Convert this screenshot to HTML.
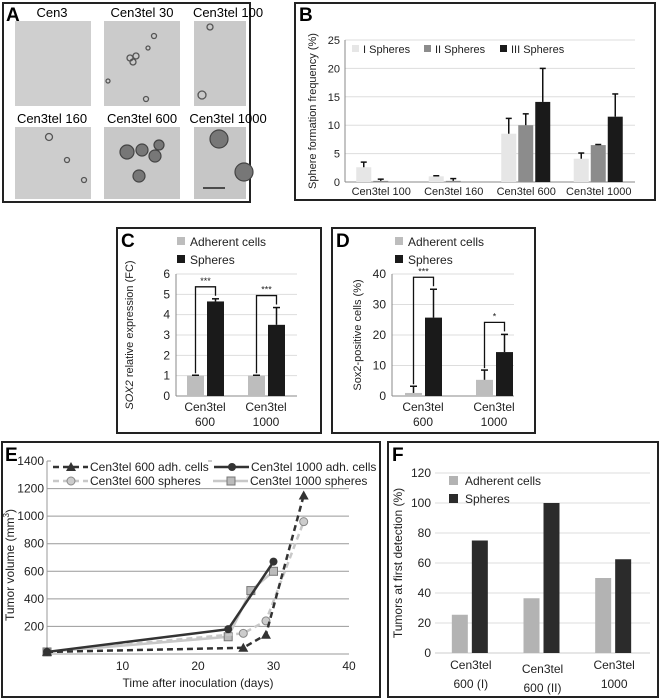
<!DOCTYPE html>
<html><head><meta charset="utf-8"><style>
html,body{margin:0;padding:0;background:#fff}
svg{display:block;font-family:"Liberation Sans",Arial,sans-serif}
</style></head><body>
<svg id="fig" width="660" height="700" viewBox="0 0 660 700" xmlns="http://www.w3.org/2000/svg">
<g>
<rect x="3" y="3" width="247" height="199" fill="#fff" stroke="#222" stroke-width="2"/>
<text x="6" y="21" font-size="19" font-weight="bold">A</text>
<text x="52" y="17" font-size="13" text-anchor="middle">Cen3</text>
<text x="142" y="17" font-size="13" text-anchor="middle">Cen3tel 30</text>
<text x="228" y="17" font-size="13" text-anchor="middle">Cen3tel 100</text>
<text x="52" y="123" font-size="13" text-anchor="middle">Cen3tel 160</text>
<text x="142" y="123" font-size="13" text-anchor="middle">Cen3tel 600</text>
<text x="228" y="123" font-size="13" text-anchor="middle">Cen3tel 1000</text>
<rect x="15" y="21" width="76" height="85" fill="#cfcfcf"/>
<rect x="104" y="21" width="76" height="85" fill="#cbcbcb"/>
<rect x="194" y="21" width="52" height="85" fill="#c9c9c9"/>
<rect x="15" y="127" width="76" height="72" fill="#cdcdcd"/>
<rect x="104" y="127" width="76" height="72" fill="#c8c8c8"/>
<rect x="194" y="127" width="52" height="72" fill="#c6c6c6"/>
<g fill="none" stroke="#555" stroke-width="1.3">
<circle cx="130" cy="58" r="3"/><circle cx="136" cy="56" r="3"/><circle cx="133" cy="62" r="3"/><circle cx="154" cy="36" r="2.5"/><circle cx="148" cy="48" r="2"/><circle cx="146" cy="99" r="2.5"/><circle cx="108" cy="81" r="2"/>
<circle cx="210" cy="27" r="3"/><circle cx="202" cy="95" r="4"/><circle cx="49" cy="137" r="3.5"/><circle cx="67" cy="160" r="2.5"/><circle cx="84" cy="180" r="2.5"/>
</g>
<g fill="#777" stroke="#444" stroke-width="1.2">
<circle cx="127" cy="152" r="7"/><circle cx="142" cy="150" r="6"/><circle cx="155" cy="156" r="6"/><circle cx="159" cy="145" r="5"/><circle cx="139" cy="176" r="6"/>
<circle cx="219" cy="139" r="9"/><circle cx="244" cy="172" r="9"/>
</g>
<line x1="203" y1="188" x2="225" y2="188" stroke="#222" stroke-width="1.5"/>
</g>
<g id="panelB">
<rect x="295" y="3" width="360" height="197" fill="#fff" stroke="#222" stroke-width="2"/>
<text x="299" y="21" font-size="19" font-weight="bold">B</text>
<text transform="translate(316,111) rotate(-90)" font-size="11" text-anchor="middle" fill="#222">Sphere formation frequency (%)</text>
</g>
<g id="panelC">
<rect x="117" y="228" width="204" height="205" fill="#fff" stroke="#222" stroke-width="2"/>
<text x="121" y="247" font-size="19" font-weight="bold">C</text>
<text transform="translate(133,335) rotate(-90)" font-size="11" text-anchor="middle" fill="#222"><tspan font-style="italic">SOX2</tspan> relative expression (FC)</text>
</g>
<g id="panelD">
<rect x="332" y="228" width="203" height="205" fill="#fff" stroke="#222" stroke-width="2"/>
<text x="336" y="247" font-size="19" font-weight="bold">D</text>
<text transform="translate(361,335) rotate(-90)" font-size="11" text-anchor="middle" fill="#222">Sox2-positive cells (%)</text>
</g>
<g id="panelE">
<rect x="2" y="442" width="378" height="255" fill="#fff" stroke="#222" stroke-width="2"/>
<text x="5" y="461" font-size="19" font-weight="bold">E</text>
<text transform="translate(14,565) rotate(-90)" font-size="12" text-anchor="middle" fill="#222">Tumor volume (mm<tspan dy="-5" font-size="8">3</tspan><tspan dy="5">)</tspan></text>
<text x="198" y="687" font-size="12" text-anchor="middle" fill="#222">Time after inoculation (days)</text>
</g>
<g id="panelF">
<rect x="388" y="442" width="270" height="255" fill="#fff" stroke="#222" stroke-width="2"/>
<text x="392" y="461" font-size="19" font-weight="bold">F</text>
<text transform="translate(402,563) rotate(-90)" font-size="12" text-anchor="middle" fill="#222">Tumors at first detection (%)</text>
</g>
</svg>
<script>
// Panel B data
const bCategories = ["Cen3tel 100","Cen3tel 160","Cen3tel 600","Cen3tel 1000"];
const bSeriesNames = ["I Spheres","II Spheres","III Spheres"];
const bSphI = [2.6,1.0,8.5,4.1];
const bSphIErr = [3.5,1.1,11.2,5.1];
const bSphII = [0.2,0.2,10.0,6.5];
const bSphIIErr = [0.5,0.6,12.0,6.6];
const bSphIII = [0,0,14.1,11.5];
const bSphIIIErr = [0,0,20.0,15.5];
const bTicks = [0,5,10,15,20,25];
// Panel C data
const cCategories = [["Cen3tel","600"],["Cen3tel","1000"]];
const cAdherent = [1,1];
const cAdherentErr = [1.02,1.02];
const cSpheres = [4.65,3.5];
const cSpheresErr = [4.78,4.35];
const cSig = ["***","***"];
const cTicks = [0,1,2,3,4,5,6];
// Panel D data
const dCategories = [["Cen3tel","600"],["Cen3tel","1000"]];
const dAdherent = [1,5.3];
const dAdherentErr = [3.2,8.5];
const dSpheres = [25.7,14.4];
const dSpheresErr = [35,20.2];
const dSig = ["***","*"];
const dTicks = [0,10,20,30,40];
// Panel E data
const eXTicks = [10,20,30,40];
const eYTicks = [200,400,600,800,1000,1200,1400];
const e600AdhX = [0,26,29,34];
const e600AdhY = [15,45,140,1150];
const e1000AdhX = [0,24,30];
const e1000AdhY = [15,180,670];
const e600SphX = [0,26,29,34];
const e600SphY = [15,150,240,960];
const e1000SphX = [0,24,27,30];
const e1000SphY = [15,125,460,600];
// Panel F data
const fCategories = [["Cen3tel","600 (I)"],["Cen3tel","600 (II)"],["Cen3tel","1000"]];
const fAdherent = [25.5,36.5,50];
const fSpheres = [75,100,62.5];
const fTicks = [0,20,40,60,80,100,120];

const NS="http://www.w3.org/2000/svg";
function mk(parent,tag,attrs,text){const e=document.createElementNS(NS,tag);for(const k in attrs)e.setAttribute(k,attrs[k]);if(text!==undefined)e.textContent=text;parent.appendChild(e);return e;}
function lin(d0,d1,r0,r1){return v=>r0+(v-d0)/(d1-d0)*(r1-r0);}

// ---------- Panel B ----------
(function(){
const g=document.getElementById('panelB');
const x0=345,x1=635,y=lin(0,25,182,40);
bTicks.forEach(t=>{
  if(t>0){const l=mk(g,'line',{x1:x0,x2:x1,y1:y(t),y2:y(t),stroke:'#ddd','stroke-width':1});
  
  }
  const tx=mk(g,'text',{x:x0-5,y:y(t)+4,'font-size':11,'text-anchor':'end',fill:'#222'},t);
  
  
});
mk(g,'line',{x1:x0,x2:x0,y1:y(25),y2:y(0),stroke:'#888'});
mk(g,'line',{x1:x0,x2:x1,y1:y(0),y2:y(0),stroke:'#888'});
const gw=(x1-x0)/bCategories.length;
const series=[[bSphI,bSphIErr,'#e6e6e6'],[bSphII,bSphIIErr,'#8c8c8c'],[bSphIII,bSphIIIErr,'#1a1a1a']];
bCategories.forEach((c,i)=>{
  const cx=x0+gw*(i+0.5);
  series.forEach((s,j)=>{
    const bx=cx-25+j*17;
    const v=s[0][i];
    const r=mk(g,'rect',{x:bx,y:y(v),width:15,height:y(0)-y(v),fill:s[2]});
    
    
    const e=s[1][i];
    if(e>v){mk(g,'line',{x1:bx+7.5,x2:bx+7.5,y1:y(v),y2:y(e),stroke:'#111','stroke-width':1.5});
      mk(g,'line',{x1:bx+4.5,x2:bx+10.5,y1:y(e),y2:y(e),stroke:'#111','stroke-width':1.5});}
  });
  const t=mk(g,'text',{x:cx,y:195,'font-size':11,'text-anchor':'middle',fill:'#222'},c);
  
  
});
const lx=[352,424,500];
bSeriesNames.forEach((n,j)=>{
  mk(g,'rect',{x:lx[j],y:45,width:7,height:7,fill:series[j][2]});
  const t=mk(g,'text',{x:lx[j]+11,y:53,'font-size':11,fill:'#222'},n);
  
  
});
})();

// ---------- Panels C & D ----------
function pairChart(id,cats,adh,adhErr,sph,sphErr,sig,ticks,ymax,x0,x1,bx,legX){
const g=document.getElementById(id);
const y=lin(0,ymax,396,274);
ticks.forEach(t=>{
  if(t>0){const l=mk(g,'line',{x1:x0,x2:x1,y1:y(t),y2:y(t),stroke:'#ddd'});
  
  }
  const tx=mk(g,'text',{x:x0-6,y:y(t)+4,'font-size':12,'text-anchor':'end',fill:'#222'},t);
  
  
});
mk(g,'line',{x1:x0,x2:x0,y1:y(ymax),y2:y(0),stroke:'#888'});
mk(g,'line',{x1:x0,x2:x1,y1:y(0),y2:y(0),stroke:'#888'});
cats.forEach((c,i)=>{
  const a=bx[i],s=a+20;
  const r1=mk(g,'rect',{x:a,y:y(adh[i]),width:17,height:y(0)-y(adh[i]),fill:'#bdbdbd'});
  
  
  const r2=mk(g,'rect',{x:s,y:y(sph[i]),width:17,height:y(0)-y(sph[i]),fill:'#1a1a1a'});
  
  
  [[a,adh[i],adhErr[i]],[s,sph[i],sphErr[i]]].forEach(q=>{
    mk(g,'line',{x1:q[0]+8.5,x2:q[0]+8.5,y1:y(q[1]),y2:y(q[2]),stroke:'#111','stroke-width':1.5});
    mk(g,'line',{x1:q[0]+5,x2:q[0]+12,y1:y(q[2]),y2:y(q[2]),stroke:'#111','stroke-width':1.5});
  });
  const top=Math.min(y(adhErr[i]),y(sphErr[i]))-12;
  mk(g,'path',{d:`M${a+8.5},${y(adhErr[i])-2}V${top}H${s+8.5}V${y(sphErr[i])-3}`,fill:'none',stroke:'#111','stroke-width':1.3});
  const st=mk(g,'text',{x:(a+s)/2+8.5,y:top-3,'font-size':9,'text-anchor':'middle',fill:'#222'},sig[i]);
  
  
  const t=mk(g,'text',{x:a+18,y:411,'font-size':12,'text-anchor':'middle',fill:'#222'});
  mk(t,'tspan',{x:a+18},c[0]);mk(t,'tspan',{x:a+18,dy:15},c[1]);
  
  
});
mk(g,'rect',{x:legX,y:237,width:8,height:8,fill:'#bdbdbd'});
const l1=mk(g,'text',{x:legX+13,y:246,'font-size':12,fill:'#222'},'Adherent cells');


mk(g,'rect',{x:legX,y:255,width:8,height:8,fill:'#1a1a1a'});
const l2=mk(g,'text',{x:legX+13,y:264,'font-size':12,fill:'#222'},'Spheres');


}
pairChart('panelC',cCategories,cAdherent,cAdherentErr,cSpheres,cSpheresErr,cSig,cTicks,6,176,297,[187,248],177);
pairChart('panelD',dCategories,dAdherent,dAdherentErr,dSpheres,dSpheresErr,dSig,dTicks,40,392,514,[405,476],395);

// ---------- Panel E ----------
(function(){
const g=document.getElementById('panelE');
const x=lin(0,40,47,349),y=lin(0,1400,654,461);
eYTicks.forEach(t=>{
  const l=mk(g,'line',{x1:x(0),x2:x(40),y1:y(t),y2:y(t),stroke:'#999'});
  
  
  const tx=mk(g,'text',{x:44,y:y(t)+4,'font-size':12,'text-anchor':'end',fill:'#222'},t);
  
  
});
mk(g,'line',{x1:x(0),x2:x(40),y1:y(0),y2:y(0),stroke:'#999'});
mk(g,'line',{x1:x(0),x2:x(0),y1:y(0),y2:y(1400),stroke:'#999'});
eXTicks.forEach(t=>{
  const tx=mk(g,'text',{x:x(t),y:670,'font-size':12,'text-anchor':'middle',fill:'#222'},t);
  
  
});
const ser=[
 [e1000SphX,e1000SphY,'#c8c8c8','','sq','series-1000-spheres'],
 [e600SphX,e600SphY,'#c8c8c8','6,4','oc','series-600-spheres'],
 [e1000AdhX,e1000AdhY,'#333','','ci','series-1000-adherent'],
 [e600AdhX,e600AdhY,'#333','6,4','tr','series-600-adherent']];
function marker(p,px,py,type){
  if(type==='sq')mk(p,'rect',{x:px-4,y:py-4,width:8,height:8,fill:'#bbb',stroke:'#777'});
  else if(type==='oc')mk(p,'circle',{cx:px,cy:py,r:4,fill:'#ccc',stroke:'#888'});
  else if(type==='ci')mk(p,'circle',{cx:px,cy:py,r:4,fill:'#333'});
  else mk(p,'path',{d:`M${px},${py-5}L${px+5},${py+4}L${px-5},${py+4}Z`,fill:'#333'});
}
ser.forEach(s=>{
  const sg=mk(g,'g',{});
  
  
  const pts=s[0].map((v,i)=>x(v)+','+y(s[1][i])).join(' ');
  mk(sg,'polyline',{points:pts,fill:'none',stroke:s[2],'stroke-width':2.5,'stroke-dasharray':s[3]});
  s[0].forEach((v,i)=>marker(sg,x(v),y(s[1][i]),s[4]));
});
const leg=[[53,467,'#333','6,4','tr','Cen3tel 600 adh. cells'],[214,467,'#333','','ci','Cen3tel 1000 adh. cells'],
 [53,481,'#c8c8c8','6,4','oc','Cen3tel 600 spheres'],[213,481,'#c8c8c8','','sq','Cen3tel 1000 spheres']];
leg.forEach(l=>{
  mk(g,'rect',{x:l[0]-2,y:l[1]-7,width:l[0]<100?157:165,height:13,fill:'#fff'});
  mk(g,'line',{x1:l[0],x2:l[0]+35,y1:l[1],y2:l[1],stroke:l[2],'stroke-width':2.5,'stroke-dasharray':l[3]});
  marker(g,l[0]+18,l[1],l[4]);
  const t=mk(g,'text',{x:l[0]+37,y:l[1]+4,'font-size':12,fill:'#222'},l[5]);
  
  
});
})();

// ---------- Panel F ----------
(function(){
const g=document.getElementById('panelF');
const x0=435,x1=650,y=lin(0,120,653,473);
fTicks.forEach(t=>{
  if(t>0){const l=mk(g,'line',{x1:x0,x2:x1,y1:y(t),y2:y(t),stroke:'#ddd'});
  
  }
  const tx=mk(g,'text',{x:x0-4,y:y(t)+4,'font-size':12,'text-anchor':'end',fill:'#222'},t);
  
  
});
mk(g,'line',{x1:x0,x2:x1,y1:y(0),y2:y(0),stroke:'#ccc'});
const gw=(x1-x0)/fCategories.length;
fCategories.forEach((c,i)=>{
  const cx=x0+gw*(i+0.5);
  const r1=mk(g,'rect',{x:cx-19,y:y(fAdherent[i]),width:16,height:y(0)-y(fAdherent[i]),fill:'#b3b3b3'});
  
  
  const r2=mk(g,'rect',{x:cx+1,y:y(fSpheres[i]),width:16,height:y(0)-y(fSpheres[i]),fill:'#2b2b2b'});
  
  
  const ly=i===1?673:669;
  const t=mk(g,'text',{x:cx,y:ly,'font-size':12,'text-anchor':'middle',fill:'#222'});
  mk(t,'tspan',{x:cx},c[0]);mk(t,'tspan',{x:cx,dy:19},c[1]);
  
  
});
mk(g,'rect',{x:449,y:476,width:9,height:9,fill:'#b3b3b3'});
const l1=mk(g,'text',{x:465,y:485,'font-size':12,fill:'#222'},'Adherent cells');


mk(g,'rect',{x:449,y:494,width:9,height:9,fill:'#2b2b2b'});
const l2=mk(g,'text',{x:465,y:503,'font-size':12,fill:'#222'},'Spheres');


})();
</script>
</body></html>
